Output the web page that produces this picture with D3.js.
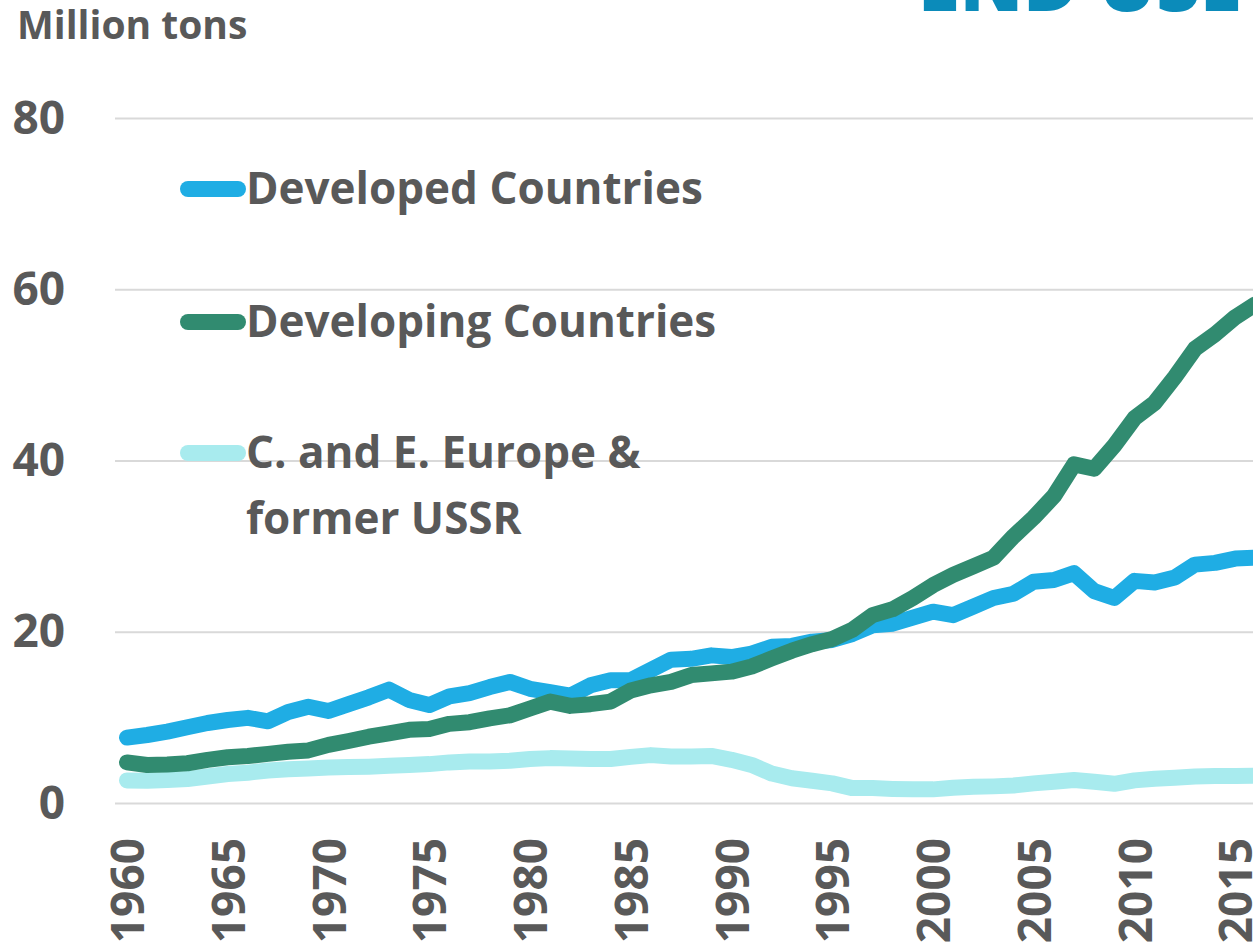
<!DOCTYPE html>
<html>
<head>
<meta charset="utf-8">
<script src="https://cdn.jsdelivr.net/npm/d3@7"></script>
<style>
  html, body { margin: 0; padding: 0; background: #fff; overflow: hidden; }
  svg { display: block; font-family: "Open Sans", Lato, sans-serif; font-weight: 700; }
</style>
</head>
<body>
<script>
const years = [
  1960, 1961, 1962, 1963, 1964, 1965, 1966, 1967, 1968, 1969,
  1970, 1971, 1972, 1973, 1974, 1975, 1976, 1977, 1978, 1979,
  1980, 1981, 1982, 1983, 1984, 1985, 1986, 1987, 1988, 1989,
  1990, 1991, 1992, 1993, 1994, 1995, 1996, 1997, 1998, 1999,
  2000, 2001, 2002, 2003, 2004, 2005, 2006, 2007, 2008, 2009,
  2010, 2011, 2012, 2013, 2014, 2015, 2016
];

const developed = [
  7.7, 8.0, 8.4, 8.9, 9.4, 9.75, 10.0, 9.6, 10.7, 11.3,
  10.8, 11.6, 12.4, 13.3, 12.1, 11.5, 12.5, 12.9, 13.6, 14.2,
  13.4, 13.0, 12.6, 13.8, 14.4, 14.4, 15.6, 16.8, 16.9, 17.3,
  17.1, 17.5, 18.3, 18.4, 18.9, 19.1, 19.8, 20.8, 21.0, 21.7,
  22.4, 22.0, 23.0, 24.0, 24.5, 25.9, 26.1, 26.9, 24.8, 24.0,
  26.0, 25.8, 26.4, 27.9, 28.1, 28.6, 28.7
];

const developing = [
  4.8, 4.5, 4.55, 4.7, 5.1, 5.4, 5.55, 5.8, 6.05, 6.2,
  6.85, 7.3, 7.8, 8.2, 8.6, 8.7, 9.3, 9.5, 9.95, 10.3,
  11.1, 11.9, 11.4, 11.6, 11.9, 13.2, 13.8, 14.2, 15.0, 15.2,
  15.4, 16.0, 16.95, 17.85, 18.6, 19.2, 20.3, 22.0, 22.7, 24.0,
  25.5, 26.7, 27.7, 28.7, 31.2, 33.4, 35.9, 39.6, 39.1, 41.8,
  45.0, 46.8, 49.8, 53.1, 54.8, 56.8, 58.3
];

const ceEurope = [
  2.7, 2.65, 2.75, 2.85, 3.15, 3.45, 3.6, 3.85, 4.0, 4.1,
  4.2, 4.25, 4.3, 4.4, 4.5, 4.6, 4.8, 4.9, 4.9, 5.0,
  5.2, 5.3, 5.25, 5.2, 5.2, 5.45, 5.65, 5.5, 5.5, 5.55,
  5.1, 4.5, 3.5, 2.95, 2.65, 2.35, 1.8, 1.8, 1.7, 1.65,
  1.65, 1.85, 1.95, 2.0, 2.1, 2.35, 2.55, 2.75, 2.55, 2.3,
  2.7, 2.9, 3.0, 3.15, 3.2, 3.2, 3.25
];

const yTicks = [0, 20, 40, 60, 80];
const xTicks = [1960, 1965, 1970, 1975, 1980, 1985, 1990, 1995, 2000, 2005, 2010, 2015];

// series in drawing order (last one on top)
const series = [
  { name: "Developed Countries", values: developed, color: "#1FADE4" },
  { name: "C. and E. Europe & former USSR", values: ceEurope, color: "#A8EBEE" },
  { name: "Developing Countries", values: developing, color: "#318B70" }
];

const legendItems = [
  { lines: ["Developed Countries"], color: "#1FADE4" },
  { lines: ["Developing Countries"], color: "#318B70" },
  { lines: ["C. and E. Europe &", "former USSR"], color: "#A8EBEE" }
];

const width = 1253;
const height = 949;
const TEXT = "#595959";
const FONT = "'Open Sans', Lato, sans-serif";

const svg = d3.select("body")
  .append("svg")
  .attr("width", width)
  .attr("height", height);

const x = d3.scaleLinear()
  .domain([1960, 2016])
  .range([127, 1255.4]);

const y = d3.scaleLinear()
  .domain([0, 80])
  .range([803.5, 118.5]);

// title, cut off at top of the frame
svg.append("text")
  .attr("x", 918)
  .attr("y", 11)
  .attr("fill", "#0B8BBA")
  .attr("font-size", 76)
  .attr("font-weight", 800)
  .text("END USE");

svg.append("text")
  .attr("x", 17)
  .attr("y", 39)
  .attr("fill", TEXT)
  .attr("font-size", 39)
  .text("Million tons");

// gridlines
svg.append("g")
  .selectAll("line")
  .data(yTicks)
  .join("line")
  .attr("x1", 115)
  .attr("x2", width)
  .attr("y1", (d) => y(d))
  .attr("y2", (d) => y(d))
  .attr("stroke", "#D9D9D9")
  .attr("stroke-width", 2);

// y axis labels
svg.append("g")
  .attr("transform", "translate(65,0)")
  .call(d3.axisLeft(y).tickValues(yTicks).tickSize(0).tickPadding(0))
  .call((g) => g.select(".domain").remove())
  .call((g) =>
    g.selectAll("text")
      .attr("fill", TEXT)
      .attr("font-size", 46)
      .attr("font-family", FONT)
      .attr("font-weight", 700)
  );

// x axis labels, rotated
svg.append("g")
  .attr("transform", "translate(0,838)")
  .call(d3.axisBottom(x).tickValues(xTicks).tickFormat(d3.format("d")).tickSize(0))
  .call((g) => g.select(".domain").remove())
  .call((g) =>
    g.selectAll("text")
      .attr("x", 0)
      .attr("y", 0)
      .attr("dy", "0.36em")
      .attr("transform", "rotate(-90)")
      .attr("text-anchor", "end")
      .attr("fill", TEXT)
      .attr("font-size", 46)
      .attr("font-family", FONT)
      .attr("font-weight", 700)
  );

const line = d3.line()
  .x((d, i) => x(years[i]))
  .y((d) => y(d));

svg.append("g")
  .selectAll("path")
  .data(series)
  .join("path")
  .attr("d", (d) => line(d.values))
  .attr("fill", "none")
  .attr("stroke", (d) => d.color)
  .attr("stroke-width", 16)
  .attr("stroke-linejoin", "round")
  .attr("stroke-linecap", "round");

// legend
const legendY = [189, 322, 453];
const legend = svg.append("g");
legendItems.forEach((item, i) => {
  const g = legend.append("g").attr("transform", `translate(0,${legendY[i]})`);
  g.append("line")
    .attr("x1", 188)
    .attr("x2", 238)
    .attr("stroke", item.color)
    .attr("stroke-width", 16)
    .attr("stroke-linecap", "round");
  g.append("text")
    .attr("x", 246)
    .attr("y", 15)
    .attr("fill", TEXT)
    .attr("font-size", 44)
    .selectAll("tspan")
    .data(item.lines)
    .join("tspan")
    .attr("x", 246)
    .attr("dy", (d, j) => (j === 0 ? 0 : 66))
    .text((d) => d);
});
</script>
</body>
</html>
